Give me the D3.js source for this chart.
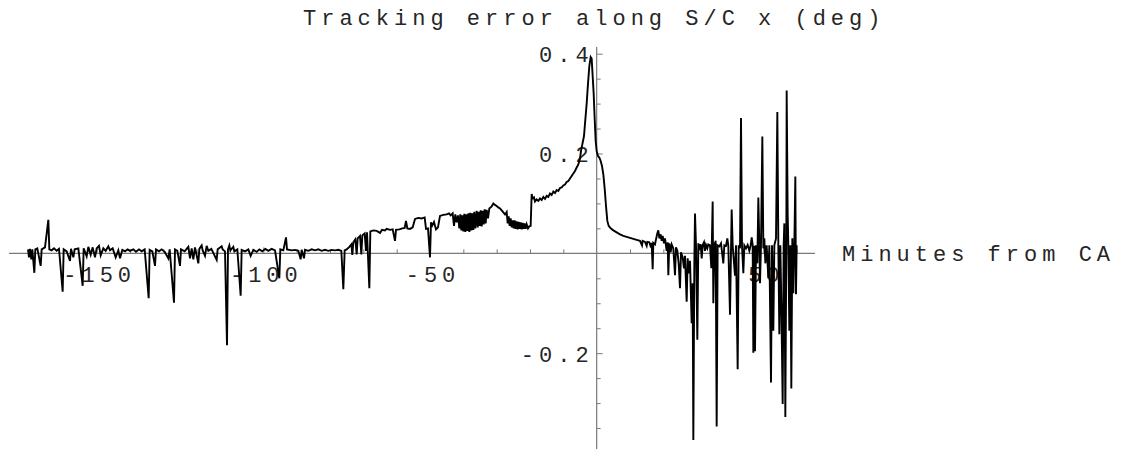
<!DOCTYPE html>
<html>
<head>
<meta charset="utf-8">
<script src="https://cdn.jsdelivr.net/npm/d3@7"></script>
<style>
  html, body { margin: 0; padding: 0; background: #fff; }
  svg { display: block; }
  text { font-family: "Liberation Mono", "Courier New", Courier, monospace; }
</style>
</head>
<body>
<svg id="chart" width="1125" height="449"></svg>
<script>
// ---------- data ----------
const chartTitle = "Tracking error along S/C x (deg)";
const xAxisLabel = "Minutes from CA";

const xMajorTicks = [-150, -100, -50, 50];
const xMinorTicks = [-170, -160, -140, -130, -120, -110, -90, -80, -70, -60, -40, -30, -20, -10, 10, 20, 30, 40, 60];
const yMajorTicks = [0.4, 0.2, -0.2];
const yMinorTicks = [0.35, 0.3, 0.25, 0.15, 0.1, 0.05, -0.05, -0.1, -0.15, -0.25, -0.3, -0.35];

const minutes = [
  -170.6,-170.3,-170.0,-169.6,-169.3,-168.7,-168.4,-167.8,-166.8,-166.5,-165.5,-164.5,-164.2,-163.5,-162.8,-162.0,-161.3,
  -160.2,-159.9,-159.0,-158.0,-157.7,-157.0,-156.6,-155.5,-154.2,-153.9,-153.0,-152.5,-151.8,-151.2,-150.5,-150.0,
  -149.3,-148.8,-148.0,-147.3,-146.5,-146.0,-145.2,-144.3,-143.5,-143.0,-142.3,-141.5,-140.7,-140.0,-139.0,-138.2,
  -137.3,-136.5,-135.6,-134.4,-134.1,-133.3,-132.5,-132.2,-131.3,-130.5,-129.6,-128.5,-128.1,-126.8,-126.5,-125.8,
  -125.0,-124.7,-123.6,-122.5,-122.0,-121.5,-121.0,-120.5,-119.5,-119.2,-118.5,-118.2,-117.5,-117.0,-116.5,-115.6,
  -114.0,-113.7,-112.5,-112.2,-111.5,-110.9,-110.6,-110.2,-109.9,-109.0,-108.7,-107.8,-106.8,-106.5,-105.5,-104.5,
  -103.8,-103.0,-102.0,-101.2,-100.3,-99.4,-98.5,-97.5,-96.5,-95.2,-94.9,-94.0,-93.2,-92.9,-91.5,-90.5,-89.5,-88.8,
  -88.5,-87.8,-87.5,-86.5,-85.5,-84.5,-83.5,-82.5,-81.5,-80.5,-79.5,-78.5,-77.5,-76.6,-76.0,-75.6,
  -75.0,-74.2,-73.6,-73.3,-73.0,-72.4,-72.0,-71.7,-71.0,-70.6,-70.3,-69.6,-69.2,-68.9,-68.2,-67.9,-67.0,-66.0,-65.0,
  -64.4,-63.5,-63.0,-62.0,-61.2,-60.5,-60.2,-59.2,-58.3,-57.6,-57.2,-56.8,-56.0,-55.2,-54.5,-53.5,-52.5,-51.6,-51.2,
  -50.6,-50.0,-49.7,-49.3,-48.8,-48.2,-47.6,-47.0,-46.0,-45.0,-44.3,-43.8,-43.2,-42.8,-42.4,-42.0,-41.6,
  -41.2,-40.9,-40.6,-40.3,-40.0,-39.7,-39.4,-39.1,-38.8,-38.5,-38.2,-37.9,-37.6,-37.3,-37.0,-36.7,-36.4,-36.0,-35.7,
  -35.4,-35.1,-34.8,-34.5,-34.2,-33.9,-33.6,-33.3,-33.0,-32.6,-32.2,-31.5,-31.0,-30.5,-30.0,-29.5,-29.0,-28.5,-28.0,
  -27.5,-27.0,-26.7,-26.4,-26.1,-25.8,-25.5,-25.2,-24.9,-24.6,-24.3,-24.0,-23.7,-23.4,-23.1,-22.8,-22.5,-22.2,-21.9,
  -21.6,-21.3,-21.0,-20.6,-20.2,-19.8,-19.5,-19.2,-18.8,-18.5,-18.0,-17.5,-17.0,-16.5,-16.0,-15.5,-15.0,-14.5,-14.0,
  -13.5,-13.0,-12.5,-12.0,-11.5,-11.0,-10.5,-10.0,-9.5,-9.0,-8.5,-8.0,-7.5,-7.0,-6.5,-6.0,-5.5,-5.0,-4.7,-4.4,-4.1,
  -3.8,-3.5,-3.0,-2.6,-2.2,-1.8,-1.5,-1.2,-0.9,-0.6,-0.3,0.0,0.4,0.8,1.2,1.6,2.0,2.4,2.8,3.2,3.6,4.2,5.0,6.0,7.0,8.0,
  9.0,10.0,11.0,12.0,13.0,13.6,13.8,14.5,15.0,15.2,15.8,16.3,16.5,16.8,17.0,17.5,17.8,18.2,18.5,18.8,19.2,19.5,19.8,
  20.2,20.5,21.0,21.3,21.5,21.8,22.2,22.5,23.0,23.5,23.8,24.2,24.6,25.0,25.3,25.8,26.2,26.5,27.0,27.3,27.7,28.0,28.5,
  28.8,29.0,29.3,29.5,29.8,30.2,30.5,30.8,31.2,31.5,31.8,32.2,32.5,32.8,33.2,33.5,34.0,34.4,34.8,35.0,35.3,35.7,36.0,
  36.3,36.8,37.3,38.0,38.3,38.8,39.2,39.5,40.0,40.5,40.8,41.5,41.8,42.3,42.6,43.0,43.3,43.6,44.0,44.3,44.8,45.3,45.8,
  46.2,46.5,46.8,47.0,47.3,47.5,47.8,48.2,48.5,48.8,49.0,49.3,49.7,50.0,50.3,50.6,51.0,51.5,51.8,52.3,52.6,53.0,53.3,
  53.8,54.2,54.5,54.8,55.1,55.4,55.8,56.1,56.3,56.6,56.9,57.0,57.3,57.5,57.8,58.1,58.4,58.7,59.0,59.3,59.6,59.8,60.0
];

const trackingError = [
  0.008,-0.008,0.009,-0.012,0.008,-0.039,0.008,0.010,-0.025,0.008,0.012,0.067,0.008,0.006,0.010,0.005,0.009,
  -0.077,0.008,0.004,-0.015,0.009,-0.008,0.008,0.010,-0.065,0.010,-0.006,0.013,-0.003,0.012,-0.008,0.010,
  0.015,-0.004,0.010,0.005,0.014,0.006,0.010,-0.008,0.006,-0.010,0.007,0.004,0.008,0.005,0.008,0.003,
  0.008,0.004,0.008,-0.090,0.007,0.004,-0.025,0.008,0.004,0.008,0.003,-0.010,0.008,-0.099,0.008,0.005,
  -0.025,0.008,0.004,0.013,-0.010,0.010,-0.012,0.012,-0.020,0.009,0.016,0.006,-0.005,0.015,0.005,0.009,
  -0.013,0.008,0.014,0.008,0.004,-0.184,0.008,0.016,0.006,0.013,0.004,0.008,-0.085,0.007,0.004,0.008,
  -0.005,0.007,0.003,0.008,0.004,0.009,0.005,0.009,0.006,-0.050,0.008,0.006,0.032,0.008,0.006,0.007,0.005,-0.012,
  0.007,-0.010,0.007,0.005,0.008,0.006,0.008,0.005,0.007,0.005,0.007,0.006,0.007,0.005,-0.072,0.006,
  0.008,0.013,0.018,-0.003,0.022,0.028,-0.002,0.030,0.035,-0.002,0.036,0.040,0.005,0.042,-0.070,0.044,0.046,0.045,0.041,
  0.047,0.046,0.049,0.047,0.048,0.025,0.047,0.048,0.050,0.051,0.065,0.050,0.049,0.052,0.069,0.071,0.070,0.072,0.049,
  0.050,-0.008,0.062,0.056,0.063,0.048,0.052,0.075,0.077,0.078,0.080,0.076,0.080,0.055,0.078,0.062,0.076,
  0.050,0.078,0.046,0.076,0.044,0.079,0.043,0.078,0.045,0.080,0.043,0.081,0.046,0.080,0.047,0.083,0.050,0.085,0.052,
  0.083,0.055,0.086,0.054,0.085,0.058,0.088,0.060,0.087,0.070,0.090,0.094,0.100,0.097,0.095,0.092,0.090,0.086,0.082,
  0.078,0.083,0.060,0.074,0.055,0.070,0.052,0.066,0.050,0.066,0.049,0.064,0.048,0.063,0.049,0.062,0.048,0.061,0.049,
  0.060,0.049,0.058,0.050,0.054,0.055,0.119,0.110,0.112,0.104,0.108,0.105,0.110,0.107,0.113,0.109,0.115,0.113,0.120,
  0.117,0.124,0.121,0.127,0.125,0.131,0.132,0.136,0.138,0.143,0.145,0.150,0.155,0.160,0.165,0.172,0.178,0.190,0.205,0.215,0.225,
  0.235,0.260,0.300,0.340,0.375,0.393,0.390,0.355,0.320,0.270,0.225,0.205,0.195,0.192,0.185,0.175,0.158,0.130,0.095,0.065,0.055,0.050,0.046,0.042,0.038,0.035,
  0.033,0.031,0.029,0.027,0.025,0.016,0.025,0.023,0.015,0.023,0.022,0.012,0.021,-0.032,0.021,0.018,0.028,0.040,0.046,0.030,0.038,0.025,0.035,
  0.020,0.030,0.005,0.022,-0.044,0.020,0.002,0.018,0.010,-0.044,0.012,0.005,-0.020,-0.070,0.002,-0.008,-0.030,-0.005,-0.097,-0.010,-0.040,-0.015,-0.140,
  -0.060,-0.374,-0.020,0.080,0.016,-0.173,0.020,0.010,0.018,-0.010,0.016,0.022,0.005,0.017,0.010,0.018,0.016,-0.030,0.104,-0.100,0.016,0.025,-0.347,
  0.016,0.014,0.020,-0.020,0.016,0.015,0.030,0.015,-0.123,0.088,0.016,-0.045,0.016,-0.232,0.016,0.010,0.271,0.016,-0.040,0.016,0.010,0.017,0.005,
  0.016,0.032,0.016,-0.199,0.015,-0.196,0.016,-0.020,0.112,0.016,-0.060,0.016,0.234,0.010,0.030,-0.020,0.016,-0.050,0.016,-0.259,0.016,-0.155,0.016,
  0.030,0.283,0.016,-0.162,0.016,-0.100,-0.302,0.016,0.060,-0.328,0.016,0.326,0.080,0.016,-0.155,0.016,-0.271,0.030,-0.080,0.016,0.154,-0.082,0.016
];

// ---------- drawing ----------
const svg = d3.select("#chart");

const x = d3.scaleLinear().domain([-176.3, 65.5]).range([9, 815]);
const y = d3.scaleLinear().domain([-0.392, 0.4134]).range([449, 47]);

const axisColor = "#7a7a7a";
const textColor = "#262626";
const fontSize = 22;
const spacing = 5;

const x0 = x(0), y0 = y(0);

// X axis: minor and major ticks pointing up
const gx = svg.append("g").attr("transform", `translate(0,${y0})`);
gx.append("g").call(d3.axisTop(x).tickValues(xMinorTicks).tickSize(4).tickFormat("").tickSizeOuter(0));
gx.append("g").call(d3.axisTop(x).tickValues(xMajorTicks).tickSize(6).tickFormat("").tickSizeOuter(0));
// labels below
gx.append("g").attr("class", "xlabels")
  .call(d3.axisBottom(x).tickValues(xMajorTicks).tickSize(0).tickPadding(8).tickFormat(d => String(d)).tickSizeOuter(0));
gx.selectAll("path.domain").remove();
gx.append("line").attr("x1", 9).attr("x2", 815).attr("y1", 0).attr("y2", 0)
  .attr("stroke", axisColor).attr("stroke-width", 1.2);

// Y axis: ticks to the right
const gy = svg.append("g").attr("transform", `translate(${x0},0)`);
gy.append("g").call(d3.axisRight(y).tickValues(yMinorTicks).tickSize(4).tickFormat("").tickSizeOuter(0));
gy.append("g").call(d3.axisRight(y).tickValues(yMajorTicks).tickSize(6).tickFormat("").tickSizeOuter(0));
gy.append("g").attr("class", "ylabels")
  .call(d3.axisLeft(y).tickValues(yMajorTicks).tickSize(0).tickPadding(3).tickFormat(d => d.toFixed(1)).tickSizeOuter(0));
gy.selectAll("path.domain").remove();
gy.append("line").attr("x1", 0).attr("x2", 0).attr("y1", 47).attr("y2", 449)
  .attr("stroke", axisColor).attr("stroke-width", 1.2);

svg.selectAll(".tick line").attr("stroke", axisColor).attr("stroke-width", 1);
svg.selectAll(".tick text")
  .attr("fill", textColor)
  .style("font-family", '"Liberation Mono", "Courier New", monospace')
  .style("font-size", fontSize + "px")
  .style("letter-spacing", spacing + "px");
svg.selectAll(".xlabels .tick text").attr("dx", spacing / 2).attr("dy", "0.95em");
svg.selectAll(".ylabels .tick text").attr("dy", "0.36em");

// Data line (drawn on top of axes)
const pts = minutes.map((m, i) => [m, trackingError[i]]);
svg.append("path")
  .datum(pts)
  .attr("fill", "none")
  .attr("stroke", "#000")
  .attr("stroke-width", 1.9)
  .attr("stroke-linejoin", "miter")
  .attr("d", d3.line().x(d => x(d[0])).y(d => y(d[1])));

// Title and axis label
svg.append("text")
  .attr("x", 303).attr("y", 25)
  .attr("fill", textColor)
  .style("font-size", fontSize + "px")
  .style("letter-spacing", spacing + "px")
  .text(chartTitle);

svg.append("text")
  .attr("x", 842).attr("y", 261)
  .attr("fill", textColor)
  .style("font-size", fontSize + "px")
  .style("letter-spacing", spacing + "px")
  .text(xAxisLabel);
</script>
</body>
</html>
